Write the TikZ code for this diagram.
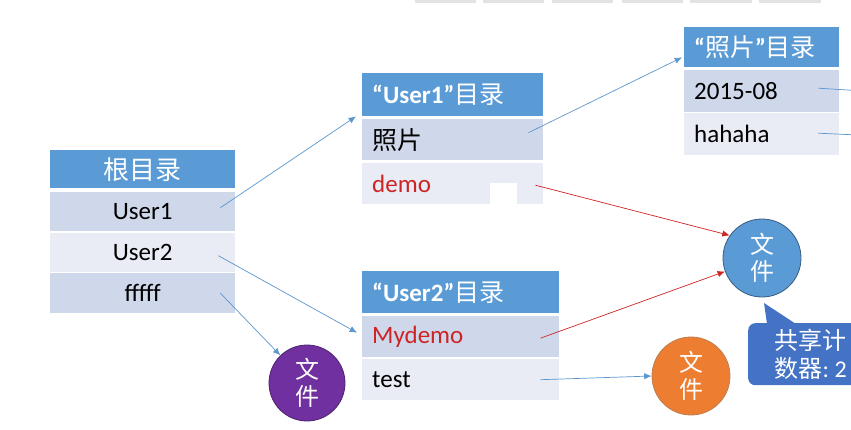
\documentclass[tikz,border=0pt]{standalone}
\usepackage{fontspec}
\setmainfont{Carlito}
\newfontfamily\cjk{Noto Sans CJK SC}
\usetikzlibrary{arrows.meta}

\definecolor{hdrblue}{RGB}{91,155,213}
\definecolor{rowa}{RGB}{207,216,234}
\definecolor{rowb}{RGB}{233,235,245}
\definecolor{sharered}{RGB}{206,36,36}
\definecolor{linkblue}{RGB}{91,150,205}
\definecolor{fileblue}{RGB}{91,155,213}
\definecolor{fileorange}{RGB}{237,125,49}
\definecolor{filepurple}{RGB}{112,48,160}
\definecolor{cntblue}{RGB}{68,114,196}

\begin{document}
\begin{tikzpicture}[x=1pt, y=-1pt, >={Latex[length=2.6mm,width=2.2mm]},
	box/.style={anchor=north west, inner xsep=10pt, inner ysep=0pt, align=left, font=\fontsize{25}{28}\selectfont},
	hdr/.style={box, fill=hdrblue, text=white, font=\bfseries\fontsize{25}{28}\selectfont},
	rowa/.style={box, fill=rowa},
	rowb/.style={box, fill=rowb},
	filec/.style={circle, minimum size=#1, inner sep=0pt, text=white, line width=0.8pt, align=center, font=\cjk\fontsize{24}{27}\selectfont},
	link/.style={->, draw=linkblue, line width=0.7pt},
	share/.style={->, draw=sharered, line width=0.7pt}]
	\useasboundingbox (0,0) rectangle (851,429);

	% toolbar remains at the top edge
	\foreach \xa/\xb in {415/476, 483/544, 552/613, 622/683, 690/752, 759/821}
		\fill[gray!22] (\xa,0) rectangle (\xb,2.5);

	% root directory
	\node[hdr, text width=165pt, align=center, minimum height=38pt] (root) at (50,150) {{\cjk\mdseries\fontsize{26}{28}\selectfont 根目录}};
	\node[rowa, text width=165pt, align=center, minimum height=39pt] (u1) at (50,192) {User1};
	\node[rowb, text width=165pt, align=center, minimum height=39pt] (u2) at (50,233) {User2};
	\node[rowa, text width=165pt, align=center, minimum height=40pt] (ff) at (50,273) {fffff};

	% User1 directory
	\node[hdr, text width=161pt, minimum height=43pt] (h1) at (362,73) {“User1”{\cjk\mdseries 目录}};
	\node[rowa, text width=161pt, minimum height=41pt] (pic) at (362,119) {{\cjk 照片}};
	\node[rowb, text width=161pt, minimum height=41pt, text=sharered] (demo) at (362,163) {demo};
	\fill[white] (490,183) rectangle (517,204.5);

	% photo directory
	\node[hdr, text width=135pt, minimum height=40pt] (h3) at (684,27) {“{\cjk\mdseries 照片}”{\cjk\mdseries 目录}};
	\node[rowa, text width=135pt, minimum height=42pt] (d15) at (684,70) {2015-08};
	\node[rowb, text width=135pt, minimum height=42pt] (ha) at (684,113) {hahaha};

	% User2 directory
	\node[hdr, text width=177pt, minimum height=42pt] (h2) at (362,271) {“User2”{\cjk\mdseries 目录}};
	\node[rowa, text width=177pt, minimum height=41pt, text=sharered] (myd) at (362,316) {Mydemo};
	\node[rowb, text width=177pt, minimum height=41pt] (tst) at (362,359) {test};

	% files
	\node[filec=78pt, fill=fileblue, draw=fileblue!60!black] (f1) at (762,258) {文\\件};
	\node[filec=78pt, fill=fileorange, draw=fileorange!55!gray] (f2) at (691,376) {文\\件};
	\node[filec=76pt, fill=filepurple, draw=filepurple!70!black] (f3) at (307,383) {文\\件};

	% share counter
	\node[anchor=north west, fill=cntblue, rounded corners=7pt, minimum width=125pt, minimum height=62pt, inner xsep=13pt, inner ysep=0pt, text=white, align=left, font=\fontsize{24}{28}\selectfont] (cnt) at (748,323) {{\cjk 共享计}\\{\cjk 数器}:~2};
	\coordinate (tip) at (764,303);
	\fill[cntblue] (tip) -- (767,324) -- (796,324) -- cycle;

	% links
	\draw[link] ([shift={(-15pt,4pt)}]u1.east) -- ([xshift=-6pt]h1.south west);
	\draw[link] ([shift={(-17pt,-3pt)}]u2.east) -- ([shift={(-5pt,4pt)}]myd.west);
	\draw[link] ([xshift=-15pt]ff.east) -- (f3);
	\draw[link] ([shift={(-15pt,7pt)}]pic.east) -- ([shift={(-2pt,10pt)}]h3.south west);
	\draw[link] ([xshift=-19pt]tst.east) -- (f2.west);
	\coordinate (out1) at (880,92);
	\coordinate (out2) at (880,136);
	\draw[link] ([shift={(-21pt,3pt)}]d15.east) -- (out1);
	\draw[link] ([shift={(-21pt,1pt)}]ha.east) -- (out2);
	\draw[share] ([shift={(-8pt,-1.5pt)}]demo.east) -- (f1.145);
	\draw[share] ([shift={(-19pt,-1.5pt)}]myd.east) -- (f1.200);
\end{tikzpicture}
\end{document}
